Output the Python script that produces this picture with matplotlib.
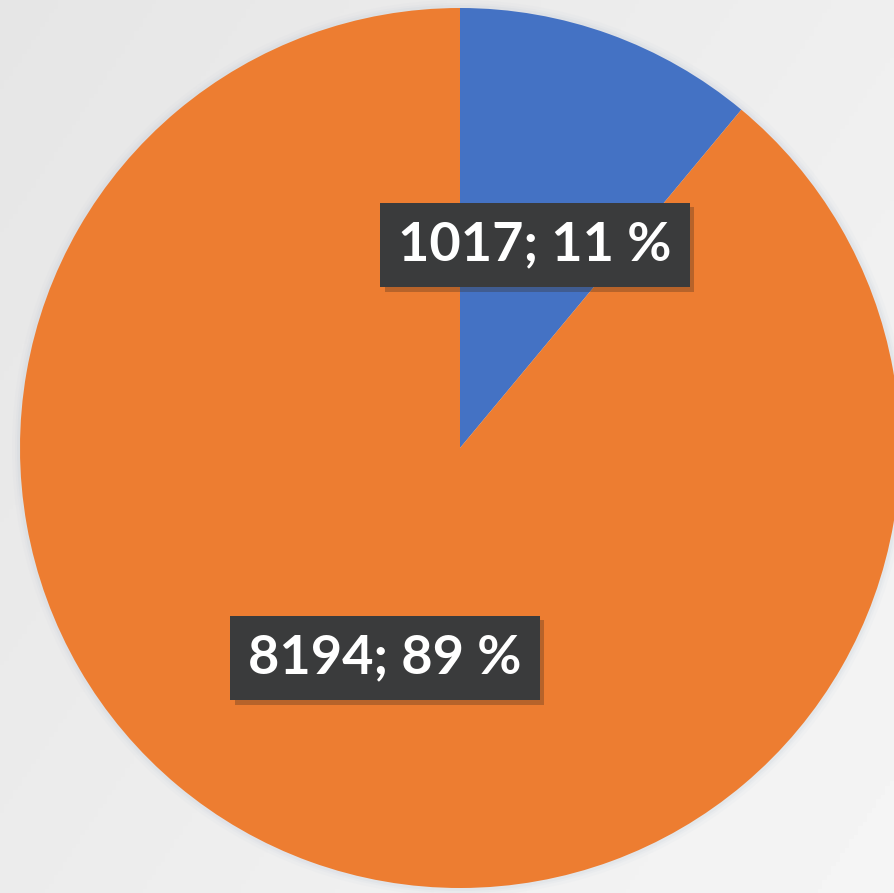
import numpy as np
import matplotlib
matplotlib.use("Agg")
import matplotlib.pyplot as plt
from matplotlib import patheffects as pe
from matplotlib.patches import Circle

labels = ["A", "B"]
values = [1017, 8194]
colors = ["#4472C4", "#ED7D31"]

W, H = 894, 893
fig = plt.figure(figsize=(W / 100, H / 100), dpi=100)
ax = fig.add_axes([0, 0, 1, 1])

# background gradient
yy, xx = np.mgrid[0:1:200j, 0:1:200j]
g = 0.90 + 0.06 * (0.6 * xx + 0.4 * (1 - yy))
ax.imshow(g, cmap="gray", vmin=0, vmax=1, extent=[0, W, H, 0], origin="upper", zorder=0)

cx, cy, r = 460, H - 448, 440
# soft outer shadow
for k, a in [(8, 0.06), (5, 0.08), (3, 0.12)]:
    ax.add_patch(Circle((cx, cy), r + k, facecolor="#b8c4d4", edgecolor="none", alpha=a, zorder=1))

total = sum(values)
wedges, _ = ax.pie(values, colors=colors, startangle=90, counterclock=False,
                   center=(cx, cy), radius=r, frame=True,
                   wedgeprops=dict(linewidth=0))
for w in wedges:
    w.set_zorder(2)
ax.set_xlim(0, W)
ax.set_ylim(0, H)
ax.set_aspect("equal")
ax.axis("off")

pos = [(535, H - 245), (385, H - 658)]
for v, (x, y) in zip(values, pos):
    pct = round(100 * v / total)
    t = ax.text(x, y, f"{v}; {pct} %", ha="center", va="center", color="white",
                fontsize=39, fontweight="bold", family="Lato", zorder=5,
                bbox=dict(boxstyle="square,pad=0.33", facecolor="#3a3b3c", edgecolor="none"))
    t.get_bbox_patch().set_path_effects([pe.SimplePatchShadow(offset=(3, -3), shadow_rgbFace="#3a2a1a", alpha=0.3), pe.Normal()])

fig.savefig("out.png", dpi=100)
